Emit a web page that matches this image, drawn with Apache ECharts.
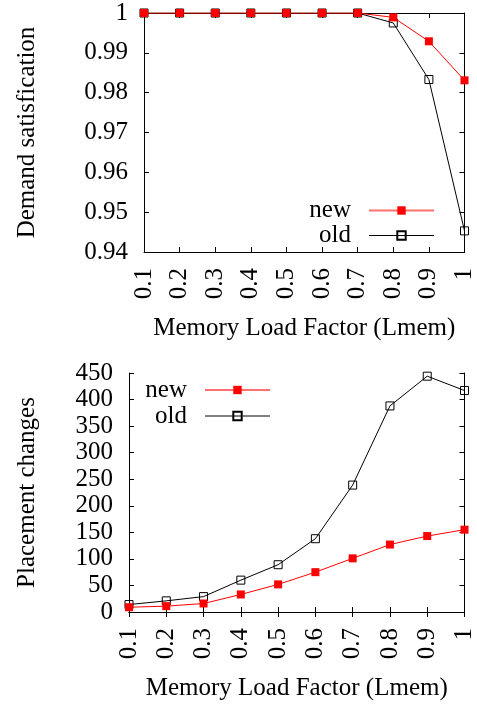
<!DOCTYPE html>
<html>
<head>
<meta charset="utf-8">
<script src="https://cdn.jsdelivr.net/npm/echarts@6/dist/echarts.min.js"></script>
<style>
  html, body { margin: 0; padding: 0; background: #fff; }
  #chart { width: 477px; height: 704px; }
</style>
</head>
<body>
<div id="chart"></div>
<script>
// Memory load factor categories (x axis of both panels)
const loadFactors = ['0.1', '0.2', '0.3', '0.4', '0.5', '0.6', '0.7', '0.8', '0.9', '1'];

// Upper panel: fraction of demand satisfied
const demandNew = [1, 1, 1, 1, 1, 1, 1, 0.9989, 0.9929, 0.9831];
const demandOld = [1, 1, 1, 1, 1, 1, 1, 0.9975, 0.9833, 0.9453];

// Lower panel: number of placement changes
const placementNew = [9, 11, 16, 33, 52, 75, 101, 127, 143, 155];
const placementOld = [14, 21, 29, 60, 89, 138, 239, 388, 444, 417];

const FONT = 'Liberation Serif';
const FS = 25;
const txt = { color: '#000', fontFamily: FONT, fontSize: FS };

function xAxisPair(gridIndex, nameGap) {
  return [
    {
      type: 'category', gridIndex, data: loadFactors, boundaryGap: false,
      axisLine: { lineStyle: { color: '#000', width: 1 } },
      axisTick: { show: true, inside: true, length: 5, alignWithLabel: true, lineStyle: { color: '#000' } },
      axisLabel: Object.assign({ rotate: 90, margin: 16, interval: 0 }, txt),
      splitLine: { show: false },
      name: 'Memory Load Factor (Lmem)', nameLocation: 'middle', nameGap,
      nameTextStyle: txt
    },
    {
      type: 'category', gridIndex, data: loadFactors, boundaryGap: false, position: 'top',
      axisLine: { lineStyle: { color: '#000', width: 1 } },
      axisTick: { show: true, inside: true, length: 5, lineStyle: { color: '#000' } },
      axisLabel: { show: false }, splitLine: { show: false }
    }
  ];
}

function yAxisPair(gridIndex, min, max, interval, name, nameGap) {
  return [
    {
      type: 'value', gridIndex, min, max, interval,
      axisLine: { show: true, lineStyle: { color: '#000', width: 1 } },
      axisTick: { show: true, inside: true, length: 5, lineStyle: { color: '#000' } },
      axisLabel: Object.assign({ margin: 16 }, txt),
      splitLine: { show: false },
      name, nameLocation: 'middle', nameGap, nameTextStyle: txt
    },
    {
      type: 'value', gridIndex, min, max, interval, position: 'right',
      axisLine: { show: true, lineStyle: { color: '#000', width: 1 } },
      axisTick: { show: true, inside: true, length: 5, lineStyle: { color: '#000' } },
      axisLabel: { show: false }, splitLine: { show: false }
    }
  ];
}

function lineSeries(name, data, xIdx, yIdx) {
  const isNew = name === 'new';
  return {
    name, type: 'line', data, xAxisIndex: xIdx, yAxisIndex: yIdx,
    symbol: 'rect', symbolSize: 8, showSymbol: true,
    z: isNew ? 4 : 3,
    lineStyle: { color: isNew ? '#ff0000' : '#000', width: 1 },
    itemStyle: isNew
      ? { color: '#ff0000', borderWidth: 0 }
      : { color: 'rgba(255,255,255,0)', borderColor: '#000', borderWidth: 1 },
    emphasis: { disabled: true },
    animation: false
  };
}

function legendFor(gridIndex, top, right) {
  return {
    orient: 'vertical', align: 'right', top, right, padding: 0,
    itemWidth: 65, itemHeight: 10.5, itemGap: 0,
    selectedMode: false,
    textStyle: Object.assign({ padding: [0, 13, 0, 0], lineHeight: gridIndex === 0 ? 25 : 26 }, txt),
    data: [
      { name: 'new', lineStyle: { color: '#ff7070', width: 2 } },
      { name: 'old', lineStyle: { color: '#000', width: 1 } }
    ]
  };
}

const chart = echarts.init(document.getElementById('chart'), null, { renderer: 'canvas' });

chart.setOption({
  animation: false,
  backgroundColor: '#fff',
  grid: [
    { left: 144, top: 13, width: 321, height: 239, containLabel: false },
    { left: 129, top: 373, width: 336, height: 239, containLabel: false }
  ],
  xAxis: [].concat(xAxisPair(0, 64), xAxisPair(1, 64)),
  yAxis: [].concat(
    yAxisPair(0, 0.94, 1, 0.01, 'Demand satisfication', 104),
    yAxisPair(1, 0, 450, 50, 'Placement changes', 89)
  ),
  legend: [legendFor(0, 198, 42), legendFor(1, 377, 206)],
  series: [
    lineSeries('old', demandOld, 0, 0),
    lineSeries('new', demandNew, 0, 0),
    lineSeries('old', placementOld, 2, 2),
    lineSeries('new', placementNew, 2, 2)
  ]
});
</script>
</body>
</html>
